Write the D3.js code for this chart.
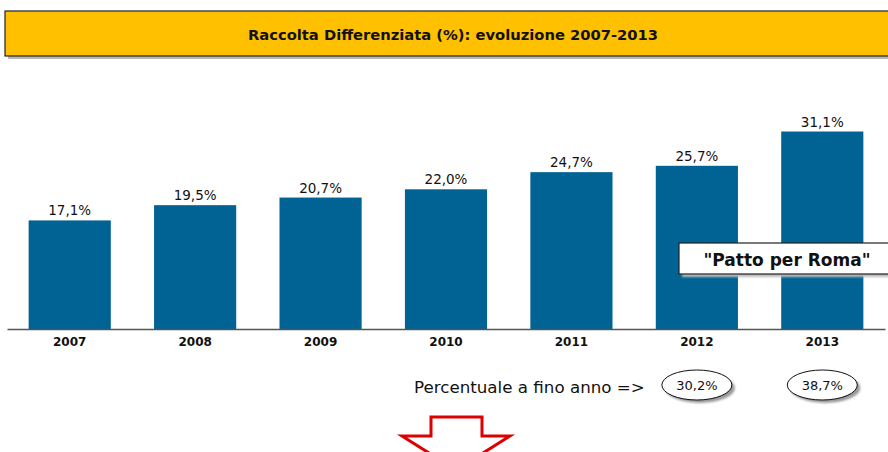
<!DOCTYPE html>
<html>
<head>
<meta charset="utf-8">
<script src="https://cdn.jsdelivr.net/npm/d3@7"></script>
<style>
  body { margin: 0; background: #fff; }
  text { font-family: "DejaVu Sans", Verdana, sans-serif; }
</style>
</head>
<body>
<div id="chart"></div>
<script>
// Data
const years = ['2007', '2008', '2009', '2010', '2011', '2012', '2013']
const values = [17.1, 19.5, 20.7, 22.0, 24.7, 25.7, 31.1]
const endYears = ['2012', '2013']
const endValues = [30.2, 38.7]

const fmt = v => v.toFixed(1).replace('.', ',') + '%'

const W = 888, H = 452
const svg = d3.select('#chart').append('svg')
    .attr('width', W)
    .attr('height', H)

const defs = svg.append('defs')
const blur = defs.append('filter').attr('id', 'shadow')
    .attr('x', '-20%').attr('y', '-20%').attr('width', '140%').attr('height', '160%')
blur.append('feGaussianBlur').attr('stdDeviation', 1.2)

// Title box
svg.append('rect')
    .attr('x', 8).attr('y', 15).attr('width', 890).attr('height', 44)
    .attr('fill', '#b8b8b8')
svg.append('rect')
    .attr('x', 5).attr('y', 11).attr('width', 890).attr('height', 45)
    .attr('fill', '#ffc000')
    .attr('stroke', '#222').attr('stroke-width', 1.2)
svg.append('text')
    .attr('x', 453).attr('y', 40)
    .attr('text-anchor', 'middle')
    .attr('font-size', 13.5).attr('font-weight', 'bold')
    .attr('textLength', 410).attr('lengthAdjust', 'spacingAndGlyphs')
    .attr('fill', '#111')
    .text('Raccolta Differenziata (%): evoluzione 2007-2013')

// Scales
const x = d3.scaleBand().domain(years).range([7, 885]).paddingInner(0.345).paddingOuter(0.1725)
const y = d3.scaleLinear().domain([0, 35]).range([329, 106.75])

// Bars
svg.append('g').selectAll('rect')
    .data(values).enter()
    .append('rect')
    .attr('x', (d, i) => x(years[i]))
    .attr('y', d => y(d))
    .attr('width', x.bandwidth())
    .attr('height', d => y(0) - y(d))
    .attr('fill', '#006394')

svg.append('g').selectAll('text')
    .data(values).enter()
    .append('text')
    .attr('x', (d, i) => x(years[i]) + x.bandwidth() / 2)
    .attr('y', d => y(d) - 5)
    .attr('text-anchor', 'middle')
    .attr('font-size', 13.5)
    .attr('fill', '#111')
    .text(fmt)

// Axis
const xAxis = d3.axisBottom(x).tickSize(0).tickPadding(8)
const axisG = svg.append('g')
    .attr('transform', `translate(0, ${y(0)})`)
    .call(xAxis)
axisG.select('.domain').attr('stroke', '#555').attr('stroke-width', 1.5)
axisG.selectAll('text')
    .attr('font-size', 12).attr('font-weight', 'bold')
    .attr('font-family', '"DejaVu Sans", Verdana, sans-serif')
    .attr('fill', '#111')

// "Patto per Roma" box
svg.append('rect')
    .attr('x', 682).attr('y', 246).attr('width', 220).attr('height', 31)
    .attr('fill', '#bbb').attr('filter', 'url(#shadow)')
svg.append('rect')
    .attr('x', 679).attr('y', 243).attr('width', 220).attr('height', 31)
    .attr('fill', '#fff').attr('stroke', '#222').attr('stroke-width', 1.2)
svg.append('text')
    .attr('x', 787).attr('y', 266)
    .attr('text-anchor', 'middle')
    .attr('font-size', 17).attr('font-weight', 'bold')
    .attr('fill', '#111')
    .text('"Patto per Roma"')

// End of year percentages
svg.append('text')
    .attr('x', 414).attr('y', 393)
    .attr('font-size', 16.7)
    .attr('fill', '#111')
    .text('Percentuale a fino anno =>')

const ell = svg.append('g').selectAll('g')
    .data(endValues).enter()
    .append('g')
    .attr('transform', (d, i) => `translate(${x(endYears[i]) + x.bandwidth() / 2}, 385)`)
ell.append('ellipse')
    .attr('cx', 3).attr('cy', 3).attr('rx', 35).attr('ry', 15)
    .attr('fill', '#999').attr('filter', 'url(#shadow)')
ell.append('ellipse')
    .attr('rx', 35).attr('ry', 15)
    .attr('fill', '#fff').attr('stroke', '#111').attr('stroke-width', 1)
ell.append('text')
    .attr('y', 4.5)
    .attr('text-anchor', 'middle')
    .attr('font-size', 13)
    .attr('fill', '#111')
    .text(fmt)

// Down arrow
svg.append('path')
    .attr('d', 'M431,417 L482,417 L482,436 L510,436 L456,470 L402,436 L431,436 Z')
    .attr('fill', '#fff')
    .attr('stroke', '#dd0000').attr('stroke-width', 3)
    .attr('stroke-linejoin', 'miter')
</script>
</body>
</html>
